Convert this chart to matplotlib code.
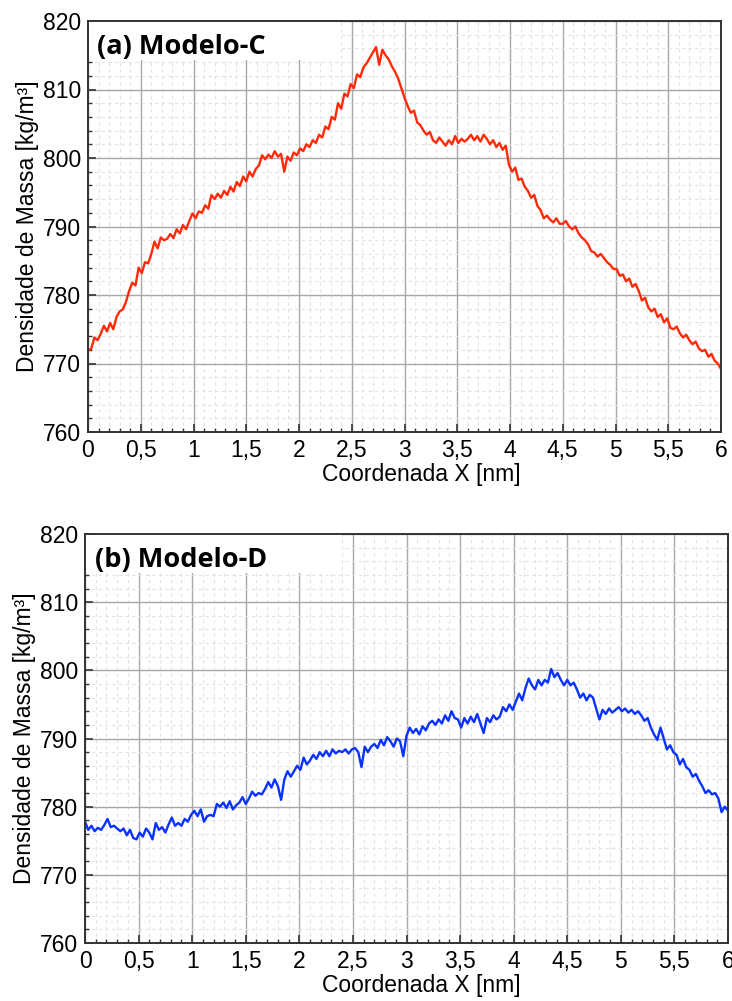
import numpy as np
import matplotlib
matplotlib.use("Agg")
import matplotlib.pyplot as plt
from matplotlib.ticker import MultipleLocator, FuncFormatter
from matplotlib.patches import Rectangle

# Mass density profiles along X (sampled every 0.03 nm from 0 to 6 nm)
x_step = 0.03
density_c = [
    772.0, 772.1, 773.8, 773.4, 774.3, 775.5, 774.7, 775.9, 775.0, 776.8,
    777.6, 777.9, 779.0, 780.6, 781.8, 781.4, 784.0, 783.2, 784.8, 784.6,
    786.0, 787.8, 786.8, 788.4, 788.0, 788.2, 788.9, 788.3, 789.6, 789.0,
    790.2, 789.6, 790.8, 791.9, 791.2, 792.2, 792.0, 793.1, 792.6, 794.6,
    794.0, 794.8, 794.2, 795.2, 794.6, 795.8, 795.1, 796.5, 795.9, 797.3,
    796.6, 798.0, 797.3, 798.4, 798.9, 800.4, 799.8, 800.5, 800.0, 801.0,
    800.2, 800.6, 798.0, 800.2, 799.6, 800.8, 800.4, 801.4, 801.0, 802.0,
    801.6, 802.6, 802.2, 803.4, 803.0, 804.6, 804.2, 806.0, 805.6, 808.0,
    807.2, 809.4, 809.0, 810.8, 810.2, 812.2, 811.8, 813.2, 813.8, 814.6,
    815.4, 816.2, 813.6, 815.8, 815.0, 814.4, 813.4, 812.6, 811.6, 810.2,
    808.8, 807.6, 806.6, 806.9, 805.2, 804.8, 804.0, 803.4, 803.8, 802.6,
    802.2, 803.0, 802.4, 801.8, 802.6, 802.0, 803.2, 802.2, 802.8, 802.4,
    802.8, 803.4, 802.6, 803.2, 802.4, 803.4, 802.8, 802.0, 802.6, 801.6,
    802.2, 801.2, 801.8, 799.0, 798.0, 798.6, 796.8, 797.0, 795.8, 795.2,
    794.2, 794.6, 793.0, 792.4, 791.2, 791.6, 791.0, 790.6, 791.2, 790.4,
    790.4, 790.8, 790.0, 789.6, 790.0, 789.0, 788.4, 788.0, 787.4, 786.4,
    786.2, 785.6, 786.0, 785.4, 784.8, 784.4, 783.8, 783.8, 782.8, 783.0,
    782.0, 782.4, 781.2, 781.6, 780.6, 779.2, 779.6, 778.2, 777.6, 778.0,
    776.8, 777.2, 776.0, 776.6, 775.2, 775.0, 775.4, 774.4, 773.8, 774.2,
    773.4, 772.8, 773.2, 772.2, 771.8, 772.0, 771.0, 771.4, 770.4, 770.0,
    769.2,
]
density_d = [
    777.8, 776.6, 777.2, 776.4, 776.9, 776.6, 777.3, 778.2, 777.0, 777.2,
    776.8, 776.4, 776.8, 775.8, 776.6, 775.4, 775.2, 776.2, 775.6, 776.8,
    776.2, 775.2, 777.6, 776.6, 777.0, 776.2, 777.4, 778.4, 777.2, 777.6,
    777.2, 778.2, 777.8, 778.8, 779.4, 778.6, 779.6, 777.8, 778.6, 778.8,
    778.6, 780.4, 780.0, 780.6, 779.8, 780.8, 779.6, 780.2, 780.6, 781.4,
    780.4, 781.2, 782.2, 781.6, 782.0, 781.8, 782.6, 783.6, 782.8, 784.0,
    783.0, 781.0, 784.0, 785.2, 784.4, 785.2, 786.0, 785.4, 787.2, 786.2,
    786.8, 787.6, 787.0, 788.0, 787.4, 788.2, 787.4, 788.4, 787.8, 788.2,
    788.0, 788.4, 787.8, 788.4, 788.6, 788.0, 785.8, 788.8, 788.0, 788.8,
    789.2, 788.6, 789.8, 789.0, 790.2, 789.6, 788.8, 790.0, 789.6, 787.4,
    790.4, 791.6, 790.8, 791.4, 790.6, 791.8, 791.2, 792.2, 792.6, 792.0,
    792.8, 792.2, 793.4, 792.6, 794.0, 793.0, 792.8, 791.6, 793.0, 792.2,
    793.2, 792.4, 793.6, 792.2, 790.8, 793.0, 792.4, 793.4, 792.8, 793.2,
    794.6, 794.0, 795.0, 794.2, 795.4, 796.6, 795.6, 797.4, 798.8, 797.8,
    797.2, 798.6, 797.8, 798.6, 798.2, 800.2, 799.0, 799.6, 798.6, 797.8,
    798.6, 797.8, 798.2, 797.2, 796.0, 796.6, 795.6, 796.4, 796.0, 794.4,
    792.8, 794.2, 793.6, 794.4, 793.8, 794.2, 794.6, 794.0, 794.4, 793.8,
    794.2, 793.6, 794.0, 793.4, 792.6, 793.0, 791.6, 790.6, 789.8, 791.6,
    790.0, 788.4, 789.0, 788.0, 787.6, 786.2, 787.0, 785.8, 785.4, 784.4,
    784.8, 783.8, 783.0, 782.0, 782.4, 781.8, 782.0, 781.2, 779.2, 780.0,
    779.4,
]

panel_titles = ["(a) Modelo-C", "(b) Modelo-D"]
panel_colors = ["#ff2a0a", "#0a32ff"]
x_label = "Coordenada X [nm]"
y_label = "Densidade de Massa [kg/m³]"

x_c = np.arange(len(density_c)) * x_step
x_d = np.arange(len(density_d)) * x_step

fig = plt.figure(figsize=(7.32, 10.01), dpi=100)
# axes rectangles in figure fractions
rects = [
    [88 / 732, 1 - 432 / 1001, 633 / 732, 411 / 1001],
    [85 / 732, 1 - 943 / 1001, 643 / 732, 409 / 1001],
]
# horizontal centre of each x-axis label, in axes fractions
xlabel_pos = [0.526, 0.523]

sans = ["Liberation Sans", "DejaVu Sans"]
label_size = 16.5
comma_fmt = FuncFormatter(lambda v, p: ("%g" % v).replace(".", ","))

for rect, xs, ys, title, color, xl in zip(rects, [x_c, x_d],
                                          [density_c, density_d],
                                          panel_titles, panel_colors, xlabel_pos):
    ax = fig.add_axes(rect)
    ax.set_xlim(0, 6)
    ax.set_ylim(760, 820)
    ax.xaxis.set_major_locator(MultipleLocator(0.5))
    ax.xaxis.set_minor_locator(MultipleLocator(0.1))
    ax.yaxis.set_major_locator(MultipleLocator(10))
    ax.yaxis.set_minor_locator(MultipleLocator(2))
    ax.xaxis.set_major_formatter(comma_fmt)

    ax.grid(which="major", color="#a8a8a8", linewidth=1.0)
    ax.grid(which="minor", color="#e2e2e2", linewidth=0.8, linestyle=(0, (3, 3)))
    ax.set_axisbelow(True)

    ax.tick_params(which="both", direction="in", top=False, right=False,
                   color="#333333")
    ax.tick_params(which="major", length=6, width=1.2, pad=5)
    ax.tick_params(which="minor", length=3, width=1.0)
    for lbl in ax.get_xticklabels() + ax.get_yticklabels():
        lbl.set_fontfamily(sans)
        lbl.set_fontsize(label_size)

    for side in ["left", "bottom", "top", "right"]:
        ax.spines[side].set_color("#333333")
        ax.spines[side].set_linewidth(1.4)

    # white panel behind the title hides the grid there
    ax.add_patch(Rectangle((0, 0.905), 0.40, 0.095, transform=ax.transAxes,
                           facecolor="white", edgecolor="none", zorder=1.5))
    ax.text(0.015, 0.968, title, transform=ax.transAxes, va="top", ha="left",
            fontsize=19.5, fontweight="bold",
            family=["Open Sans", "DejaVu Sans"], zorder=3)

    ax.plot(xs, ys, color=color, linewidth=1.7, zorder=2.5)

    ax.set_xlabel(x_label, fontsize=label_size, family=sans, labelpad=1)
    ax.xaxis.label.set_x(xl)
    ax.set_ylabel(y_label, fontsize=label_size, family=sans, labelpad=3)

fig.savefig("out.png", dpi=100)
